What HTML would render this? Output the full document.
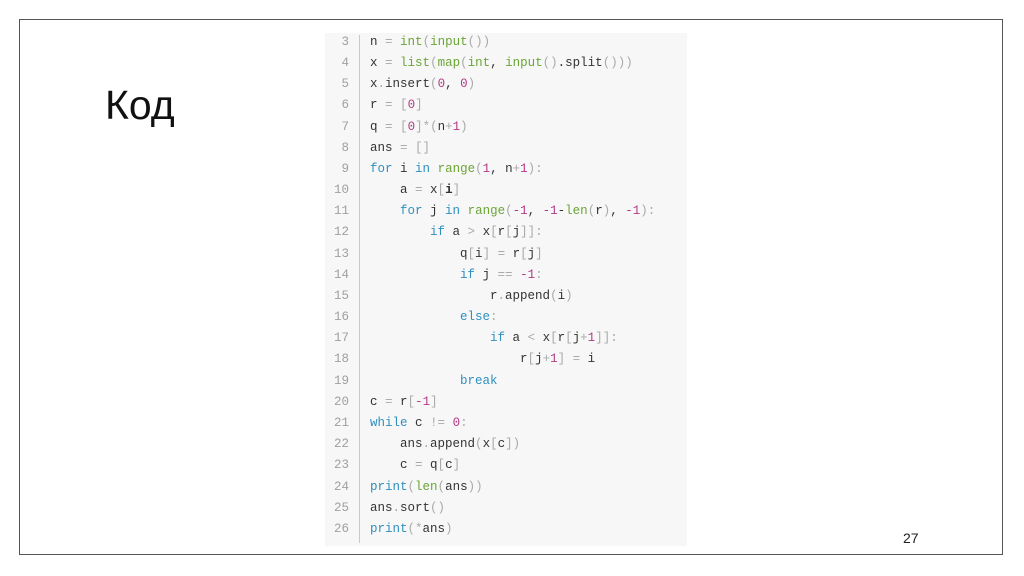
<!DOCTYPE html>
<html><head><meta charset="utf-8"><style>
html,body{margin:0;padding:0;background:#fff;}
body{width:1024px;height:576px;position:relative;overflow:hidden;font-family:"Liberation Sans",sans-serif;}
.frame{position:absolute;left:19px;top:19px;width:984px;height:536px;border:1.5px solid #555;box-sizing:border-box;}
.title{position:absolute;left:105px;top:82px;font-size:41px;color:#111;}
.num{position:absolute;left:903px;top:530px;font-size:14px;color:#222;}
.code{position:absolute;left:325px;top:33px;width:362px;height:513px;background:#f7f7f7;}
.sep{position:absolute;left:359px;top:35px;width:1px;height:508px;background:#c8c8c8;}
.ln{position:absolute;left:325px;width:24px;text-align:right;font-family:"Liberation Mono",monospace;font-size:12.5px;color:#a0a0a0;}
.cl{position:absolute;left:370px;font-family:"Liberation Mono",monospace;font-size:12.5px;color:#333;white-space:pre;}
.k{color:#2f8fbf}.b{color:#6aa535}.n{color:#b23a86}.o{color:#aaa}
</style></head><body>
<div class="frame"></div>
<div class="title">Код</div>
<div class="num">27</div>
<div class="code"></div>
<div class="sep"></div>
<div class="ln" style="top:35px">3</div><div class="cl" style="top:35px">n <span class="o">=</span> <span class="b">int</span><span class="o">(</span><span class="b">input</span><span class="o">())</span></div>
<div class="ln" style="top:56px">4</div><div class="cl" style="top:56px">x <span class="o">=</span> <span class="b">list</span><span class="o">(</span><span class="b">map</span><span class="o">(</span><span class="b">int</span>, <span class="b">input</span><span class="o">()</span>.split<span class="o">()))</span></div>
<div class="ln" style="top:77px">5</div><div class="cl" style="top:77px">x<span class="o">.</span>insert<span class="o">(</span><span class="n">0</span>, <span class="n">0</span><span class="o">)</span></div>
<div class="ln" style="top:98px">6</div><div class="cl" style="top:98px">r <span class="o">=</span> <span class="o">[</span><span class="n">0</span><span class="o">]</span></div>
<div class="ln" style="top:120px">7</div><div class="cl" style="top:120px">q <span class="o">=</span> <span class="o">[</span><span class="n">0</span><span class="o">]*(</span>n<span class="o">+</span><span class="n">1</span><span class="o">)</span></div>
<div class="ln" style="top:141px">8</div><div class="cl" style="top:141px">ans <span class="o">=</span> <span class="o">[]</span></div>
<div class="ln" style="top:162px">9</div><div class="cl" style="top:162px"><span class="k">for</span> i <span class="k">in</span> <span class="b">range</span><span class="o">(</span><span class="n">1</span>, n<span class="o">+</span><span class="n">1</span><span class="o">):</span></div>
<div class="ln" style="top:183px">10</div><div class="cl" style="top:183px">    a <span class="o">=</span> x<span class="o">[</span><b>i</b><span class="o">]</span></div>
<div class="ln" style="top:204px">11</div><div class="cl" style="top:204px">    <span class="k">for</span> j <span class="k">in</span> <span class="b">range</span><span class="o">(</span><span class="n">-1</span>, <span class="n">-1</span>-<span class="b">len</span><span class="o">(</span>r<span class="o">)</span>, <span class="n">-1</span><span class="o">):</span></div>
<div class="ln" style="top:225px">12</div><div class="cl" style="top:225px">        <span class="k">if</span> a <span class="o">&gt;</span> x<span class="o">[</span>r<span class="o">[</span>j<span class="o">]]:</span></div>
<div class="ln" style="top:247px">13</div><div class="cl" style="top:247px">            q<span class="o">[</span>i<span class="o">]</span> <span class="o">=</span> r<span class="o">[</span>j<span class="o">]</span></div>
<div class="ln" style="top:268px">14</div><div class="cl" style="top:268px">            <span class="k">if</span> j <span class="o">==</span> <span class="n">-1</span><span class="o">:</span></div>
<div class="ln" style="top:289px">15</div><div class="cl" style="top:289px">                r<span class="o">.</span>append<span class="o">(</span>i<span class="o">)</span></div>
<div class="ln" style="top:310px">16</div><div class="cl" style="top:310px">            <span class="k">else</span><span class="o">:</span></div>
<div class="ln" style="top:331px">17</div><div class="cl" style="top:331px">                <span class="k">if</span> a <span class="o">&lt;</span> x<span class="o">[</span>r<span class="o">[</span>j<span class="o">+</span><span class="n">1</span><span class="o">]]:</span></div>
<div class="ln" style="top:352px">18</div><div class="cl" style="top:352px">                    r<span class="o">[</span>j<span class="o">+</span><span class="n">1</span><span class="o">]</span> <span class="o">=</span> i</div>
<div class="ln" style="top:374px">19</div><div class="cl" style="top:374px">            <span class="k">break</span></div>
<div class="ln" style="top:395px">20</div><div class="cl" style="top:395px">c <span class="o">=</span> r<span class="o">[</span><span class="n">-1</span><span class="o">]</span></div>
<div class="ln" style="top:416px">21</div><div class="cl" style="top:416px"><span class="k">while</span> c <span class="o">!=</span> <span class="n">0</span><span class="o">:</span></div>
<div class="ln" style="top:437px">22</div><div class="cl" style="top:437px">    ans<span class="o">.</span>append<span class="o">(</span>x<span class="o">[</span>c<span class="o">])</span></div>
<div class="ln" style="top:458px">23</div><div class="cl" style="top:458px">    c <span class="o">=</span> q<span class="o">[</span>c<span class="o">]</span></div>
<div class="ln" style="top:480px">24</div><div class="cl" style="top:480px"><span class="k">print</span><span class="o">(</span><span class="b">len</span><span class="o">(</span>ans<span class="o">))</span></div>
<div class="ln" style="top:501px">25</div><div class="cl" style="top:501px">ans<span class="o">.</span>sort<span class="o">()</span></div>
<div class="ln" style="top:522px">26</div><div class="cl" style="top:522px"><span class="k">print</span><span class="o">(*</span>ans<span class="o">)</span></div>
</body></html>
